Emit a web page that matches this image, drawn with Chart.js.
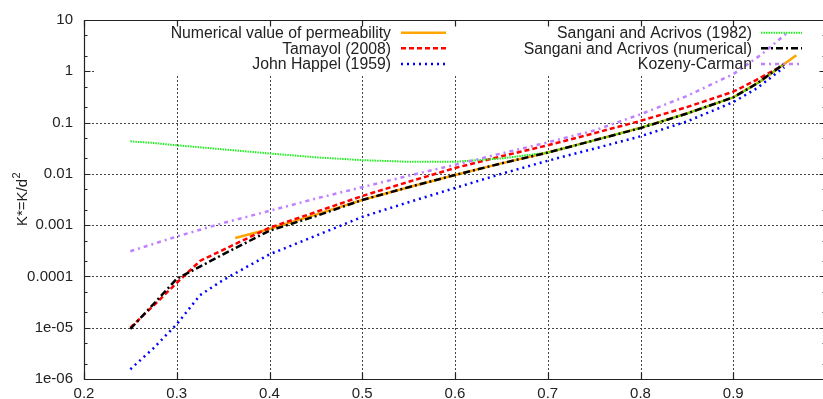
<!DOCTYPE html>
<html>
<head>
<meta charset="utf-8">
<script src="https://cdn.jsdelivr.net/npm/chart.js@4.4.1/dist/chart.umd.min.js"></script>
<style>
html,body{margin:0;padding:0;overflow:hidden;background:#fff;}
#wrap{width:827px;height:399px;}
</style>
</head>
<body>
<div id="wrap"><canvas id="c" width="827" height="399"></canvas></div>
<script>
// ---- data ----
const xTickValues = [0.2, 0.3, 0.4, 0.5, 0.6, 0.7, 0.8, 0.9];
const xTickLabels = ["0.2", "0.3", "0.4", "0.5", "0.6", "0.7", "0.8", "0.9"];
const yTickValues = [1e-6, 1e-5, 1e-4, 1e-3, 1e-2, 1e-1, 1, 10];
const yTickLabels = ["1e-06", "1e-05", "0.0001", "0.001", "0.01", "0.1", "1", "10"];

const seriesNames = [
  "Numerical value of permeability",
  "Tamayol (2008)",
  "John Happel (1959)",
  "Sangani and Acrivos (1982)",
  "Sangani and Acrivos (numerical)",
  "Kozeny-Carman"
];

const phiNumerical = [0.363, 0.4, 0.45, 0.5, 0.55, 0.6, 0.65, 0.7, 0.75, 0.8, 0.85, 0.9, 0.93, 0.968];
const kNumerical   = [5.6e-4, 8.4e-4, 1.6e-3, 3.1e-3, 5.5e-3, 9.5e-3, 1.6e-2, 2.6e-2, 4.5e-2, 7.9e-2, 0.15, 0.31, 0.65, 2.05];

const phiModels = [0.25, 0.275, 0.3, 0.325, 0.35, 0.4, 0.45, 0.5, 0.55, 0.6, 0.65, 0.7, 0.75, 0.8, 0.85, 0.9, 0.925, 0.955];
const kTamayol      = [1.0e-5, 2.7e-5, 7.5e-5, 2.0e-4, 3.3e-4, 8.9e-4, 1.8e-3, 3.7e-3, 7.0e-3, 1.3e-2, 2.2e-2, 3.6e-2, 6.2e-2, 0.108, 0.20, 0.40, 0.68, 1.35];
const kHappel       = [1.55e-6, 4.0e-6, 1.17e-5, 4.3e-5, 8.5e-5, 2.7e-4, 6.2e-4, 1.45e-3, 2.8e-3, 5.3e-3, 1.0e-2, 1.8e-2, 3.1e-2, 5.4e-2, 0.105, 0.25, 0.46, 1.2];
const kSangani1982  = [0.043, 0.040, 0.036, 0.033, 0.030, 0.025, 0.021, 0.0185, 0.0172, 0.0172, 0.020, 0.026, 0.045, 0.079, 0.15, 0.31, 0.56, 1.4];
const kSanganiNum   = [9.5e-6, 2.9e-5, 9.0e-5, 1.55e-4, 2.7e-4, 7.8e-4, 1.5e-3, 3.1e-3, 5.5e-3, 9.5e-3, 1.6e-2, 2.6e-2, 4.5e-2, 7.8e-2, 0.15, 0.31, 0.57, 1.4];

const phiKozeny = [0.25, 0.3, 0.35, 0.4, 0.45, 0.5, 0.55, 0.6, 0.65, 0.7, 0.75, 0.8, 0.85, 0.9, 0.93, 0.959];
const kKozeny   = [3.1e-4, 6.0e-4, 1.1e-3, 1.9e-3, 3.3e-3, 5.5e-3, 9.2e-3, 1.5e-2, 2.5e-2, 4.1e-2, 7.0e-2, 0.145, 0.33, 0.88, 2.1, 5.8];

// ---- styles ----
const FONT = '"Liberation Sans", Arial, Helvetica, sans-serif';
const styles = [
  {color: '#ffa500', width: 2.5, dash: []},
  {color: '#ff0000', width: 2.5, dash: [5, 3]},
  {color: '#0000ff', width: 2.5, dash: [2, 4]},
  {color: '#22ee22', width: 2, dash: [1.5, 1]},
  {color: '#000000', width: 2.5, dash: [7, 3, 2, 3]},
  {color: '#c080ff', width: 2.5, dash: [4, 4, 2, 4]}
];

const pairs = (xs, ys) => xs.map((x, i) => ({x: x, y: ys[i]}));
const seriesData = [
  pairs(phiNumerical, kNumerical),
  pairs(phiModels, kTamayol),
  pairs(phiModels, kHappel),
  pairs(phiModels, kSangani1982),
  pairs(phiModels, kSanganiNum),
  pairs(phiKozeny, kKozeny)
];

const datasets = seriesData.map((d, i) => ({
  label: seriesNames[i],
  data: d,
  order: seriesData.length - i,
  borderColor: styles[i].color,
  borderWidth: styles[i].width,
  borderDash: styles[i].dash,
  pointRadius: 0,
  fill: false,
  tension: 0
}));

const framePlugin = {
  id: 'frame',
  beforeDatasetsDraw(chart) {
    const {ctx, chartArea: a, scales: {x, y}} = chart;
    ctx.save();
    ctx.strokeStyle = '#444';
    ctx.lineWidth = 1;
    ctx.setLineDash([2, 2]);
    xTickValues.forEach(v => {
      const px = Math.round(x.getPixelForValue(v)) + 0.5;
      ctx.beginPath(); ctx.moveTo(px, a.top); ctx.lineTo(px, a.bottom); ctx.stroke();
    });
    yTickValues.forEach(v => {
      const py = Math.round(y.getPixelForValue(v)) + 0.5;
      ctx.beginPath(); ctx.moveTo(a.left, py); ctx.lineTo(a.right, py); ctx.stroke();
    });
    ctx.setLineDash([]);
    // opaque key area
    ctx.fillStyle = '#fff';
    ctx.fillRect(a.left + 11, a.top, a.right - a.left - 11, 54);
    ctx.restore();
  },
  afterDatasetsDraw(chart) {
    const {ctx, chartArea: a, scales: {x, y}} = chart;
    ctx.save();
    ctx.strokeStyle = '#222';
    ctx.lineWidth = 1.2;
    const L = Math.round(a.left) + 0.5, R = Math.round(a.right) - 0.5;
    const T = Math.round(a.top) + 0.5, B = Math.round(a.bottom) + 0.5;
    ctx.beginPath();
    ctx.moveTo(L, T); ctx.lineTo(R, T); ctx.lineTo(R, B); ctx.lineTo(L, B); ctx.closePath();
    ctx.stroke();
    // x ticks (bottom and top)
    xTickValues.forEach(v => {
      const px = Math.round(x.getPixelForValue(v)) + 0.5;
      ctx.beginPath();
      ctx.moveTo(px, B); ctx.lineTo(px, B - 7);
      ctx.moveTo(px, T); ctx.lineTo(px, T + 6);
      ctx.stroke();
    });
    // y ticks major + minor (2,5)
    yTickValues.forEach((v, i) => {
      const py = Math.round(y.getPixelForValue(v)) + 0.5;
      ctx.beginPath();
      ctx.moveTo(L, py); ctx.lineTo(L + 6, py);
      ctx.moveTo(R, py); ctx.lineTo(R - 6, py);
      ctx.stroke();
      if (i < yTickValues.length - 1) {
        [2, 5].forEach(m => {
          const pm = Math.round(y.getPixelForValue(v * m)) + 0.5;
          ctx.beginPath();
          ctx.moveTo(L, pm); ctx.lineTo(L + 3, pm);
          ctx.moveTo(R, pm); ctx.lineTo(R - 3, pm);
          ctx.stroke();
        });
      }
    });
    // legend
    ctx.font = '15.8px ' + FONT;
    ctx.fillStyle = '#222';
    ctx.textAlign = 'right';
    ctx.textBaseline = 'middle';
    const rowsY = [32.7, 48.3, 64];
    const cols = [
      {textRight: 391, s0: 401, s1: 446},
      {textRight: 752, s0: 761, s1: 802}
    ];
    seriesNames.forEach((name, i) => {
      const c = cols[Math.floor(i / 3)];
      const ry = rowsY[i % 3];
      ctx.fillText(name, c.textRight, ry + 1);
      ctx.save();
      ctx.strokeStyle = styles[i].color;
      ctx.lineWidth = styles[i].width;
      ctx.setLineDash(styles[i].dash);
      ctx.beginPath(); ctx.moveTo(c.s0, ry); ctx.lineTo(c.s1, ry); ctx.stroke();
      ctx.restore();
    });
    // y-axis title
    ctx.save();
    ctx.translate(21, (a.top + a.bottom) / 2);
    ctx.rotate(-Math.PI / 2);
    ctx.textAlign = 'left';
    ctx.textBaseline = 'middle';
    ctx.font = '15px ' + FONT;
    const main = 'K*=K/d';
    const w1 = ctx.measureText(main).width;
    ctx.font = '11px ' + FONT;
    const w2 = ctx.measureText('2').width;
    const start = -(w1 + w2) / 2;
    ctx.font = '15px ' + FONT;
    ctx.fillText(main, start, 2);
    ctx.font = '11px ' + FONT;
    ctx.fillText('2', start + w1 + 0.5, -4);
    ctx.restore();
    ctx.restore();
  }
};

new Chart(document.getElementById('c'), {
  type: 'line',
  data: {datasets: datasets},
  options: {
    responsive: false,
    animation: false,
    layout: {padding: {top: 18, right: 1, left: 0, bottom: 0}},
    plugins: {legend: {display: false}, tooltip: {enabled: false}},
    scales: {
      x: {
        type: 'linear', min: 0.2, max: 1.0,
        afterBuildTicks: s => { s.ticks = xTickValues.map(v => ({value: v})); },
        afterFit: s => { s.height = 20; },
        ticks: {
          autoSkip: false, maxRotation: 0, padding: 6, color: '#222',
          font: {family: FONT, size: 15},
          callback: v => xTickLabels[xTickValues.indexOf(v)]
        },
        grid: {display: false, drawTicks: false},
        border: {display: false}
      },
      y: {
        type: 'logarithmic', min: 1e-6, max: 10,
        afterBuildTicks: s => { s.ticks = yTickValues.map(v => ({value: v})); },
        afterFit: s => { s.width = 84; },
        ticks: {
          autoSkip: false, padding: 11, color: '#222',
          font: {family: FONT, size: 15},
          callback: v => yTickLabels[yTickValues.indexOf(v)]
        },
        grid: {display: false, drawTicks: false},
        border: {display: false}
      }
    }
  },
  plugins: [framePlugin]
});
</script>
</body>
</html>
